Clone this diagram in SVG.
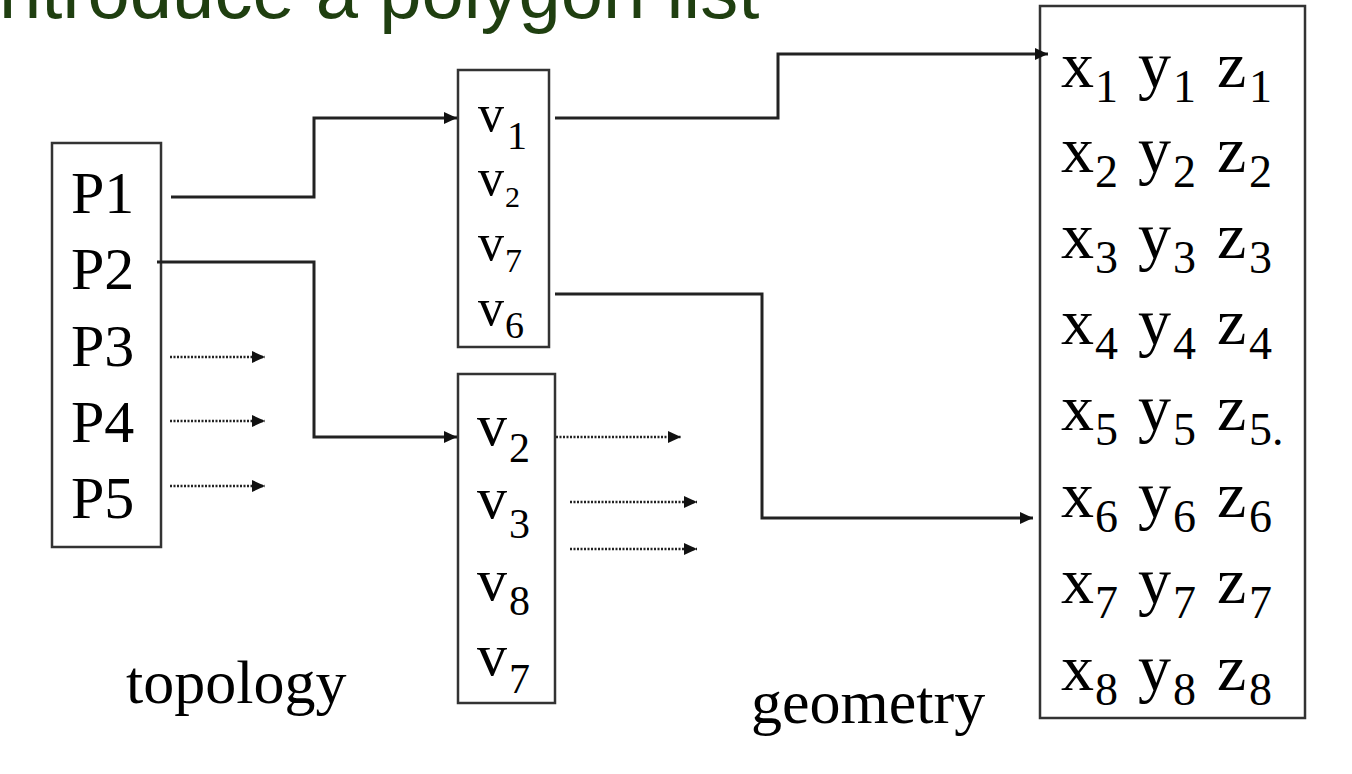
<svg xmlns="http://www.w3.org/2000/svg" width="1352" height="774" viewBox="0 0 1352 774">
<defs>
<marker id="arr" markerUnits="userSpaceOnUse" markerWidth="14" markerHeight="12" refX="13" refY="6" orient="auto">
<path d="M0,0 L13,6 L0,12 z" fill="#111"/>
</marker>
<style>
.box{fill:#fff;stroke:#333;stroke-width:2.5}
.ser{font-family:"Liberation Serif","Times New Roman",serif;fill:#000}
.lab{font-size:60px}
.link{fill:none;stroke:#222;stroke-width:3}
.dot{fill:none;stroke:#222;stroke-width:2.5;stroke-dasharray:2 1.5}
.title{font-family:"Liberation Sans",Arial,sans-serif;font-size:76px;fill:#1f3f10}
</style>
</defs>
<rect width="1352" height="774" fill="#fff"/>
<text class="title" x="-18" y="18">introduce a polygon list</text>

<g id="topology">
<rect class="box" x="52" y="143" width="109" height="404"/>
<text class="ser lab" x="71" y="213">P1</text>
<text class="ser lab" x="71" y="289">P2</text>
<text class="ser lab" x="71" y="366">P3</text>
<text class="ser lab" x="71" y="442">P4</text>
<text class="ser lab" x="71" y="518">P5</text>
</g>
<text id="topology-label" class="ser" x="126" y="703" font-size="62">topology</text>

<g id="vlist1">
<rect class="box" x="458" y="70" width="91" height="277"/>
<text class="ser" x="478" y="131" font-size="52">v</text><text class="ser" x="507" y="149" font-size="40">1</text>
<text class="ser" x="478" y="195" font-size="52">v</text><text class="ser" x="505" y="207" font-size="30">2</text>
<text class="ser" x="478" y="260" font-size="52">v</text><text class="ser" x="505" y="272" font-size="34">7</text>
<text class="ser" x="478" y="325" font-size="52">v</text><text class="ser" x="505" y="338" font-size="38">6</text>
</g>

<g id="vlist2">
<rect class="box" x="458" y="374" width="97" height="329"/>
<text class="ser" x="477" y="445" font-size="60">v</text><text class="ser" x="509" y="462" font-size="42">2</text>
<text class="ser" x="477" y="518" font-size="60">v</text><text class="ser" x="509" y="538" font-size="42">3</text>
<text class="ser" x="477" y="600" font-size="60">v</text><text class="ser" x="509" y="615" font-size="42">8</text>
<text class="ser" x="477" y="675" font-size="60">v</text><text class="ser" x="509" y="693" font-size="42">7</text>
</g>

<g id="geometry">
<rect class="box" x="1040" y="6" width="265" height="712"/>
<g class="ser">
<text x="1061" y="87" font-size="66">x</text><text x="1095" y="102" font-size="46">1</text><text x="1138" y="87" font-size="66">y</text><text x="1173" y="102" font-size="46">1</text><text x="1217" y="87" font-size="66">z</text><text x="1249" y="102" font-size="46">1</text>
<text x="1061" y="172" font-size="66">x</text><text x="1095" y="187" font-size="46">2</text><text x="1138" y="172" font-size="66">y</text><text x="1173" y="187" font-size="46">2</text><text x="1217" y="172" font-size="66">z</text><text x="1249" y="187" font-size="46">2</text>
<text x="1061" y="258" font-size="66">x</text><text x="1095" y="273" font-size="46">3</text><text x="1138" y="258" font-size="66">y</text><text x="1173" y="273" font-size="46">3</text><text x="1217" y="258" font-size="66">z</text><text x="1249" y="273" font-size="46">3</text>
<text x="1061" y="344" font-size="66">x</text><text x="1095" y="359" font-size="46">4</text><text x="1138" y="344" font-size="66">y</text><text x="1173" y="359" font-size="46">4</text><text x="1217" y="344" font-size="66">z</text><text x="1249" y="359" font-size="46">4</text>
<text x="1061" y="430" font-size="66">x</text><text x="1095" y="445" font-size="46">5</text><text x="1138" y="430" font-size="66">y</text><text x="1173" y="445" font-size="46">5</text><text x="1217" y="430" font-size="66">z</text><text x="1249" y="445" font-size="46">5.</text>
<text x="1061" y="517" font-size="66">x</text><text x="1095" y="532" font-size="46">6</text><text x="1138" y="517" font-size="66">y</text><text x="1173" y="532" font-size="46">6</text><text x="1217" y="517" font-size="66">z</text><text x="1249" y="532" font-size="46">6</text>
<text x="1061" y="603" font-size="66">x</text><text x="1095" y="618" font-size="46">7</text><text x="1138" y="603" font-size="66">y</text><text x="1173" y="618" font-size="46">7</text><text x="1217" y="603" font-size="66">z</text><text x="1249" y="618" font-size="46">7</text>
<text x="1061" y="690" font-size="66">x</text><text x="1095" y="705" font-size="46">8</text><text x="1138" y="690" font-size="66">y</text><text x="1173" y="705" font-size="46">8</text><text x="1217" y="690" font-size="66">z</text><text x="1249" y="705" font-size="46">8</text>
</g>
</g>
<text id="geometry-label" class="ser" x="751" y="723" font-size="62">geometry</text>

<g id="connectors">
<path class="link" d="M171,197 H314 V118 H457" marker-end="url(#arr)"/>
<path class="link" d="M157,262 H314 V437 H457" marker-end="url(#arr)"/>
<path class="link" d="M555,118 H778 V54 H1048" marker-end="url(#arr)"/>
<path class="link" d="M555,294 H762 V518 H1033" marker-end="url(#arr)"/>
<path class="dot" d="M170,357 H265" marker-end="url(#arr)"/>
<path class="dot" d="M170,421 H265" marker-end="url(#arr)"/>
<path class="dot" d="M170,486 H265" marker-end="url(#arr)"/>
<path class="dot" d="M556,437 H681" marker-end="url(#arr)"/>
<path class="dot" d="M570,502 H697" marker-end="url(#arr)"/>
<path class="dot" d="M570,549 H697" marker-end="url(#arr)"/>
</g>
</svg>
